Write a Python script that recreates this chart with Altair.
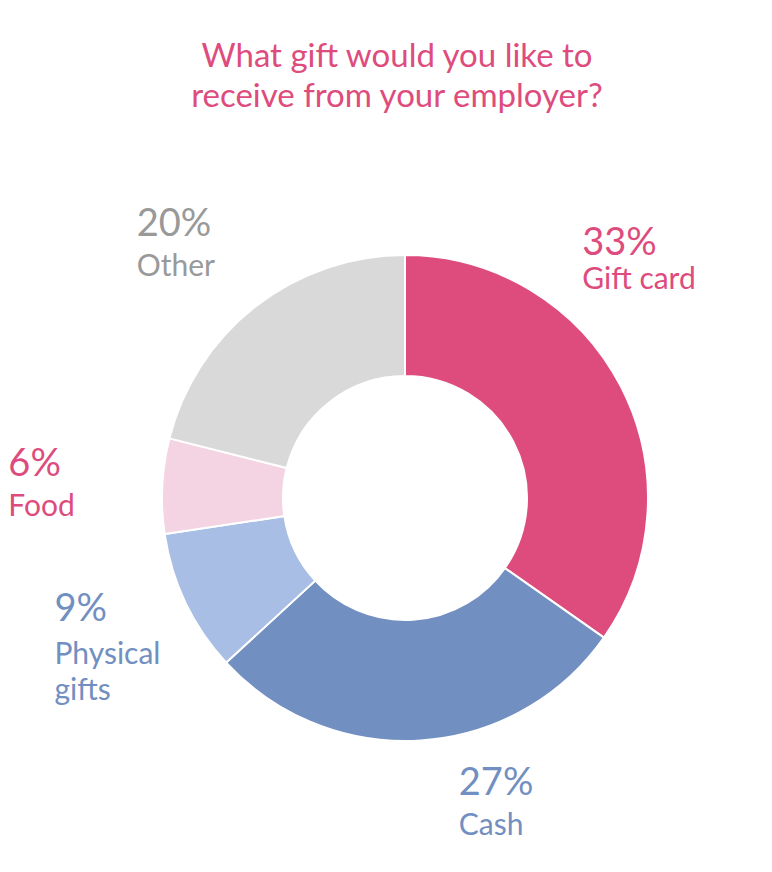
import altair as alt
import pandas as pd

CATEGORIES = ["Gift card", "Cash", "Physical gifts", "Food", "Other"]
SHARES = [33, 27, 9, 6, 20]
LABELS = ["Gift card", "Cash", "Physical\ngifts", "Food", "Other"]
SLICE_COLORS = ["#dd4c7d", "#728fc1", "#a8bee5", "#f4d3e3", "#d9d9d9"]
TEXT_COLORS = ["#dd4c7d", "#728fc1", "#728fc1", "#dd4c7d", "#999999"]

# nudges from each slice midpoint at radius 300: dx, dy of the % line, dy of the name line
LABEL_NUDGE = {
    "Gift card": (-89, -105, -71),
    "Cash": (34, -2, 38),
    "Physical gifts": (-80, -7, 36),
    "Food": (-97, -7, 33),
    "Other": (-84, -25, 15),
}

FONT = "Lato"
CX, CY = 397, 370

df = pd.DataFrame({
    "category": CATEGORIES,
    "share": SHARES,
    "label": LABELS,
    "rank": list(range(len(CATEGORIES))),
})
df["pct"] = df["share"].astype(str) + "%"

base = alt.Chart(df).encode(
    theta=alt.Theta("share:Q", stack=True),
    order=alt.Order("rank:Q"),
    x=alt.value(CX),
    y=alt.value(CY),
)

donut = base.mark_arc(outerRadius=243, innerRadius=122, stroke="white", strokeWidth=2).encode(
    color=alt.Color("category:N", scale=alt.Scale(domain=CATEGORIES, range=SLICE_COLORS), legend=None)
)

layers = [donut]
for cat, tcol in zip(CATEGORIES, TEXT_COLORS):
    dx, dy_pct, dy_name = LABEL_NUDGE[cat]
    pct = base.transform_calculate(
        txt=f"datum.category == '{cat}' ? datum.pct : ''"
    ).mark_text(
        radius=300, align="left", baseline="alphabetic", dx=dx, dy=dy_pct,
        font=FONT, fontSize=38, color=tcol
    ).encode(text="txt:N")
    name = base.transform_calculate(
        txt=f"datum.category == '{cat}' ? datum.label : ''"
    ).mark_text(
        radius=300, align="left", baseline="alphabetic", dx=dx, dy=dy_name,
        font=FONT, fontSize=30, color=tcol, lineBreak="\n", lineHeight=36
    ).encode(text="txt:N")
    layers += [pct, name]

chart = alt.layer(*layers).properties(
    width=756,
    height=736,
    autosize=alt.AutoSizeParams(type="none"),
    padding={"left": 0, "top": 120, "right": 0, "bottom": 0},
    title=alt.TitleParams(
        ["What gift would you like to", "receive from your employer?"],
        font=FONT, fontSize=33, fontWeight="normal", color="#dd4c7d",
        anchor="middle", frame="group", dx=11, offset=12, lineHeight=40
    ),
).configure_view(stroke="transparent")

chart.save("out.html", embed_options={"renderer": "svg", "actions": False})
